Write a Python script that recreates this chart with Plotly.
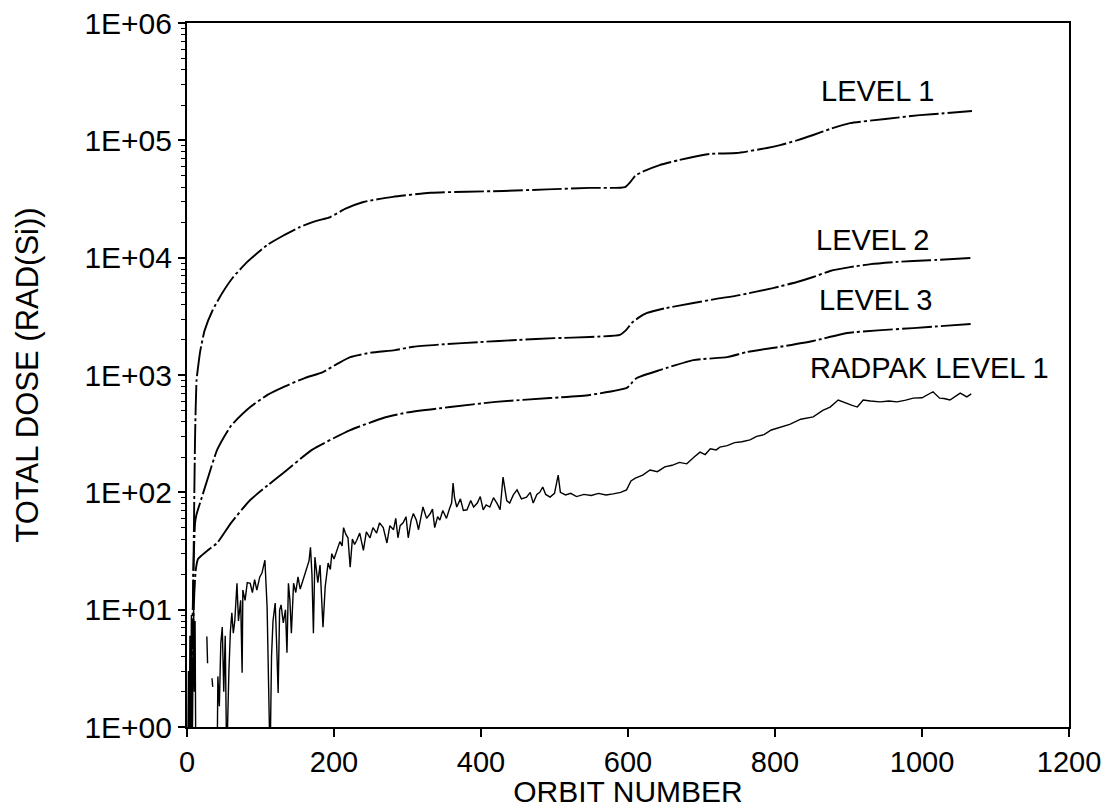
import plotly.graph_objects as go

# ---------------- data ----------------
level1_orbit = [6, 9, 11, 13, 16, 18, 24, 35, 48, 63, 82, 109, 130, 154, 175, 195, 215, 240, 280,
                331, 380, 430, 490, 548, 596, 603, 610, 620, 643, 670, 711, 748, 789, 807, 830, 852,
                875, 902, 950, 997, 1030, 1068]
level1_dose = [1.0, 30, 300, 900, 1300, 1600, 2400, 3580, 5000, 6840, 9200, 12800, 15300, 18300,
               20500, 22200, 26000, 29800, 33000, 35700, 36500, 37000, 38200, 39300, 40000, 44000,
               50000, 54000, 61500, 68000, 76500, 78000, 86000, 91000, 100000, 111000, 125000,
               140000, 152000, 164000, 170000, 178000]

level2_orbit = [5, 7, 9, 11, 13, 16, 20, 28, 41, 60, 86, 110, 131, 160, 185, 205, 222, 250, 283,
                308, 350, 399, 450, 500, 548, 589, 597, 605, 615, 626, 650, 689, 720, 752, 797, 830,
                852, 875, 902, 930, 966, 1010, 1067]
level2_dose = [1.0, 5, 25, 55, 65, 75, 90, 130, 230, 370, 533, 680, 790, 940, 1060, 1250, 1420,
               1550, 1630, 1740, 1830, 1910, 1990, 2060, 2110, 2200, 2400, 2770, 3100, 3380, 3700,
               4110, 4450, 4800, 5500, 6200, 6840, 7700, 8300, 8800, 9200, 9500, 9940]

level3_orbit = [5, 8, 10, 12, 15, 20, 28, 41, 60, 86, 110, 131, 170, 222, 267, 300, 358, 420, 494,
                548, 599, 606, 612, 643, 689, 735, 762, 807, 852, 898, 940, 988, 1030, 1067]
level3_dose = [1.0, 6, 14, 22, 27, 29, 32, 37, 55, 86, 115, 146, 230, 339, 430, 480, 533, 590, 636,
               676, 780, 870, 944, 1100, 1340, 1420, 1570, 1740, 1950, 2280, 2400, 2510, 2620, 2720]

radpak_orbit = [1, 2, 3, 4, 5, 6, 7, 8, 9, 10, 11, 12, 13,
                27, 28, 29,
                34, 35, 36,
                41, 42, 44, 46, 48, 50, 52, 54, 57, 59, 61, 63, 65, 68, 70, 73, 75, 76, 79, 82, 86,
                89, 92, 95, 99, 102, 106, 109, 113, 115, 117, 120, 122, 124, 126, 128, 131, 134, 136,
                138, 140, 142, 145, 148, 151, 154, 158, 161, 163, 166, 168, 170, 172, 174, 176, 178,
                181, 183, 185, 188, 190, 192, 195, 197, 200, 204, 208, 211, 213, 216, 219, 222, 225,
                228, 231, 235, 240, 244, 249, 253, 258, 262, 267, 272, 276, 281, 284, 287, 290, 294,
                298, 301, 305, 308, 312, 315, 318, 321, 326, 331, 334, 337, 341, 344, 348, 353, 357,
                360, 362, 364, 367, 372, 376, 381, 386, 390, 395, 399, 403, 407, 412, 417, 422, 426,
                430, 435, 439, 444, 449, 455, 462, 467, 471, 476, 480, 484, 488, 494, 500, 505, 508,
                515, 522, 530, 540, 550, 560, 570, 580, 590, 598, 604, 610, 620, 630, 640, 650, 660,
                670, 680, 690, 698, 705, 712, 720, 725, 735, 745, 755, 766, 775, 785, 795, 807, 820,
                835, 852, 865, 875, 886, 892, 898, 905, 912, 920, 930, 943, 955, 966, 978, 988, 1000,
                1007, 1015, 1024, 1030, 1038, 1045, 1052, 1061, 1067]
radpak_dose = [0.5, 3, 0.5, 6, 1.2, 9, 0.5, 4, 11, 2, 8, 0.5, None,
               5.9, 3.5, None,
               2.6, 2.2, None,
               0.5, 2.7, 1.5, 5.2, 7.1, 2.0, 6, 0.5, 3, 6.5, 9.4, 6.3, 8, 16.8, 8, 12, 2.9, 14.7, 12,
               17, 16.8, 14, 18, 14.7, 19, 20.5, 26.4, 10.5, 0.5, 4.0, 8, 11.4, 5, 1.95, 9.9, 11,
               7.7, 10, 4.3, 16.8, 12, 6.3, 16.8, 14, 19, 15, 18, 21, 23, 26, 34, 20, 6.3, 28, 22,
               17, 24, 14, 7.1, 15.6, 20, 25, 22, 30, 27, 32, 38, 35, 50, 44, 41, 23, 40, 36, 39, 45,
               32, 46, 41, 50, 45, 55, 50, 37, 52, 48, 60, 41, 52, 55, 62, 41, 58, 66, 58, 48, 62,
               75, 60, 66, 72, 50, 62, 58, 70, 60, 72, 81, 120, 90, 75, 88, 70, 71, 85, 75, 81, 92,
               71, 78, 75, 90, 80, 71, 135, 85, 81, 95, 105, 88, 91, 100, 81, 96, 100, 111, 96, 91,
               98, 140, 100, 95, 98, 92, 96, 94, 98, 95, 97, 100, 105, 125, 132, 140, 155, 150, 165,
               170, 180, 175, 200, 220, 210, 235, 230, 243, 250, 265, 270, 280, 300, 310, 340, 360,
               380, 420, 440, 500, 533, 612, 590, 575, 550, 533, 612, 600, 590, 600, 590, 610, 635,
               640, 675, 720, 635, 630, 612, 650, 700, 650, 690]

y_tickvals = [1, 10, 100, 1000, 10000, 100000, 1000000]
y_ticktext = ["1E+00", "1E+01", "1E+02", "1E+03", "1E+04", "1E+05", "1E+06"]
x_tickvals = [0, 200, 400, 600, 800, 1000, 1200]
x_ticktext = ["0", "200", "400", "600", "800", "1000", "1200"]

labels = ["LEVEL 1", "LEVEL 2", "LEVEL 3", "RADPAK LEVEL 1"]
label_orbit = [940, 933, 937, 1010]
label_logdose = [5.42, 4.15, 3.64, 3.06]

# ---------------- figure ----------------
FONT = "Liberation Sans, Arial, Helvetica, sans-serif"
dash_style = "30px,3px,3px,3px"

fig = go.Figure()
for xs, ys in [(level1_orbit, level1_dose), (level2_orbit, level2_dose), (level3_orbit, level3_dose)]:
    fig.add_trace(go.Scatter(x=xs, y=ys, mode="lines",
                             line=dict(color="black", width=1.9, dash=dash_style,
                                       shape="spline", smoothing=0.5),
                             showlegend=False, hoverinfo="skip"))
fig.add_trace(go.Scatter(x=radpak_orbit, y=radpak_dose, mode="lines", connectgaps=False,
                         line=dict(color="black", width=1.4),
                         showlegend=False, hoverinfo="skip"))

for txt, xo, yl in zip(labels, label_orbit, label_logdose):
    fig.add_annotation(x=xo, y=yl, xref="x", yref="y", text=txt, showarrow=False,
                       font=dict(family=FONT, size=29, color="black"))

minor_vals = [m * 10 ** k for k in range(0, 6) for m in range(2, 10)]

fig.update_layout(
    width=1113, height=808,
    margin=dict(l=187, r=44, t=23, b=81),
    paper_bgcolor="white", plot_bgcolor="white",
    font=dict(family=FONT, size=29, color="black"),
    showlegend=False,
)
fig.update_xaxes(
    range=[0, 1200], tickmode="array", tickvals=x_tickvals, ticktext=x_ticktext,
    showline=True, linecolor="black", linewidth=2, mirror=True,
    ticks="outside", ticklen=8, tickwidth=1.5, tickcolor="black",
    showgrid=False, zeroline=False, automargin=False,
    tickfont=dict(family=FONT, size=29, color="black"),
    title=dict(text="ORBIT NUMBER", font=dict(family=FONT, size=30, color="black"), standoff=15),
)
fig.update_yaxes(
    type="log", range=[0, 6], tickmode="array", tickvals=y_tickvals, ticktext=y_ticktext,
    showline=True, linecolor="black", linewidth=2, mirror=True,
    ticks="outside", ticklen=7, tickwidth=1.5, tickcolor="black",
    minor=dict(tickmode="array", tickvals=minor_vals, ticks="outside", ticklen=4,
               tickwidth=1.2, tickcolor="black", showgrid=False),
    showgrid=False, zeroline=False, automargin=False,
    tickfont=dict(family=FONT, size=30, color="black"),
    title=dict(text="TOTAL DOSE (RAD(Si))", font=dict(family=FONT, size=31, color="black"), standoff=37),
)

fig.write_html("out.html")
